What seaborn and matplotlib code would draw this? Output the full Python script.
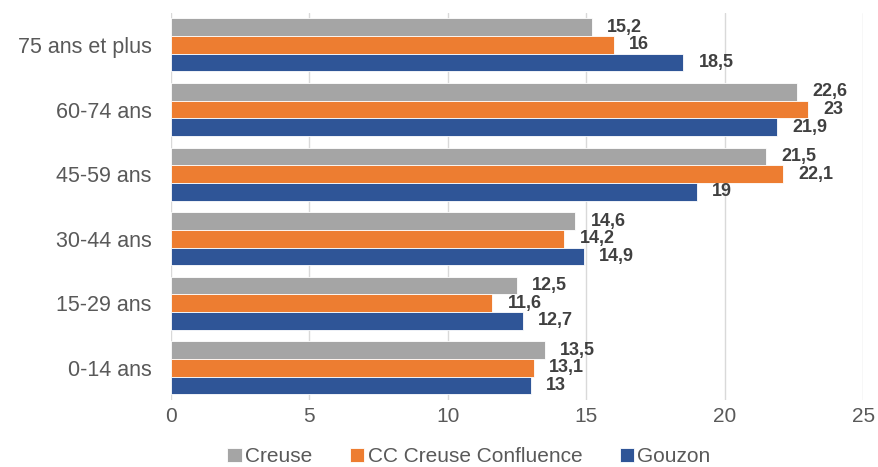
import matplotlib
matplotlib.use("Agg")
import matplotlib.pyplot as plt
import seaborn as sns
import pandas as pd

# tranches d'âge, de haut en bas
categories = ["75 ans et plus", "60-74 ans", "45-59 ans", "30-44 ans", "15-29 ans", "0-14 ans"]
series = ["Creuse", "CC Creuse Confluence", "Gouzon"]
creuse = [15.2, 22.6, 21.5, 14.6, 12.5, 13.5]
cc_confluence = [16, 23, 22.1, 14.2, 11.6, 13.1]
gouzon = [18.5, 21.9, 19, 14.9, 12.7, 13]
colors = ["#A5A5A5", "#ED7D31", "#2F5597"]

rows = []
for s, vals in zip(series, [creuse, cc_confluence, gouzon]):
    for c, v in zip(categories, vals):
        rows.append({"age": c, "serie": s, "valeur": v})
df = pd.DataFrame(rows)

sns.set_style("white")
plt.rcParams["font.family"] = ["Liberation Sans", "DejaVu Sans"]

fig = plt.figure(figsize=(8.79, 4.67), dpi=100)
ax = fig.add_axes([0.1945, 0.143, 0.7875, 0.83])

sns.barplot(data=df, x="valeur", y="age", hue="serie", order=categories,
            hue_order=series, palette=colors, width=0.82, orient="h",
            saturation=1, edgecolor="white", linewidth=0.6, ax=ax)

for cont in ax.containers:
    labels = [f"{v:g}".replace(".", ",") for v in cont.datavalues]
    ax.bar_label(cont, labels=labels, padding=11, fontsize=13, fontweight="bold",
                 color="#404040")

ax.set_xlim(0, 25)
ax.set_xticks([0, 5, 10, 15, 20, 25])
ax.xaxis.grid(True, color="#D9D9D9", linewidth=1)
ax.set_axisbelow(True)
for sp in ax.spines.values():
    sp.set_visible(False)
ax.set_xlabel("")
ax.set_ylabel("")
ax.tick_params(axis="x", labelsize=15, colors="#595959", length=0, pad=5)
ax.tick_params(axis="y", labelsize=15.5, colors="#595959", length=0, pad=14)

handles, labs = ax.get_legend_handles_labels()
ax.legend_.remove()
fig.legend(handles, labs, loc="center", bbox_to_anchor=(469 / 879, 0.022),
           ncol=3, frameon=False, fontsize=15, handlelength=0.7, handleheight=0.7,
           handletextpad=0.15, columnspacing=1.8, labelcolor="#595959")

fig.savefig("out.png", dpi=100)
